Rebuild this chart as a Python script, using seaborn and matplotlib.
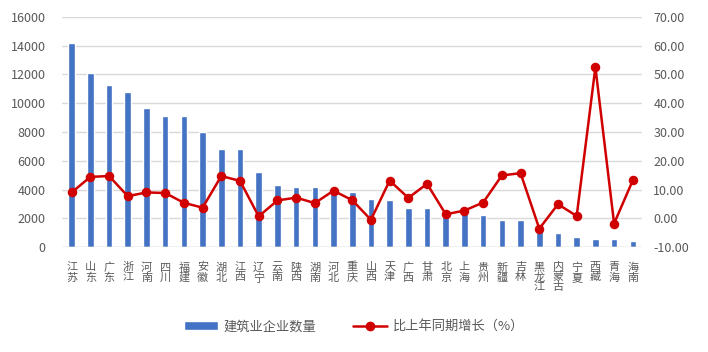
import matplotlib
matplotlib.use('Agg')
import matplotlib.pyplot as plt
import seaborn as sns
from matplotlib.lines import Line2D
from matplotlib.patches import Patch

provinces = ['江苏', '山东', '广东', '浙江', '河南', '四川', '福建', '安徽', '湖北', '江西',
             '辽宁', '云南', '陕西', '湖南', '河北', '重庆', '山西', '天津', '广西', '甘肃',
             '北京', '上海', '贵州', '新疆', '吉林', '黑龙江', '内蒙古', '宁夏', '西藏', '青海', '海南']
companies = [14200, 12100, 11250, 10800, 9700, 9100, 9100, 8000, 6800, 6800,
             5250, 4300, 4200, 4150, 4000, 3850, 3350, 3250, 2750, 2750,
             2500, 2400, 2200, 1900, 1850, 1350, 1000, 700, 560, 560, 450]
growth = [9.0, 14.4, 14.7, 7.7, 9.0, 8.8, 5.4, 3.7, 14.7, 13.0,
          0.7, 6.2, 7.2, 5.3, 9.6, 6.3, -0.5, 13.1, 7.1, 12.0,
          1.4, 2.7, 5.5, 14.9, 15.7, -3.6, 4.9, 0.8, 52.5, -1.8, 13.2]

bar_label = '建筑业企业数量'
line_label = '比上年同期增长（%）'

sns.set_theme(style='white')
plt.rcParams['font.family'] = ['Noto Sans CJK SC', 'DejaVu Sans']

blue = '#4472C4'
red = '#D00000'
grey = '#595959'

fig = plt.figure(figsize=(7.08, 3.52), dpi=100)
ax = fig.add_axes([0.088, 0.298, 0.819, 0.654])

sns.barplot(x=provinces, y=companies, color=blue, width=0.35, saturation=1, ax=ax)
ax.set_ylim(0, 16000)
ax.set_yticks(range(0, 16001, 2000))
ax.set_xlim(-0.5, len(provinces) - 0.5)
ax.yaxis.grid(True, color='#D9D9D9', linewidth=1)
ax.set_axisbelow(True)
for s in ax.spines.values():
    s.set_visible(False)
ax.axhline(0, color='#D9D9D9', linewidth=1)
ax.set_xticks(range(len(provinces)))
ax.set_xticklabels(['\n'.join(p) for p in provinces], linespacing=1.0,
                   fontsize=8, color=grey, va='top')
ax.tick_params(axis='x', length=0, pad=11)
ax.tick_params(axis='y', length=0, labelsize=9, labelcolor=grey, pad=12)
ax.set_xlabel('')
ax.set_ylabel('')

ax2 = ax.twinx()
sns.pointplot(x=provinces, y=growth, color=red, markers='o', markersize=5.5,
              linewidth=1.8, ax=ax2)
ax2.set_ylim(-10, 70)
ax2.set_yticks(range(-10, 71, 10))
ax2.set_yticklabels([f'{v:.2f}' for v in range(-10, 71, 10)])
ax2.set_xlim(-0.5, len(provinces) - 0.5)
ax2.grid(False)
for s in ax2.spines.values():
    s.set_visible(False)
ax2.tick_params(axis='y', length=0, labelsize=9, labelcolor=grey, pad=8)
ax2.set_ylabel('')

handles = [Patch(facecolor=blue, label=bar_label),
           Line2D([0], [0], color=red, marker='o', markersize=6, linewidth=1.8, label=line_label)]
fig.legend(handles=handles, loc='center', bbox_to_anchor=(0.5, 0.072), ncol=2,
           frameon=False, fontsize=9.5, labelcolor=grey, handlelength=2.6, columnspacing=2.8,
           handletextpad=0.4)

fig.savefig('out.png', dpi=100)
